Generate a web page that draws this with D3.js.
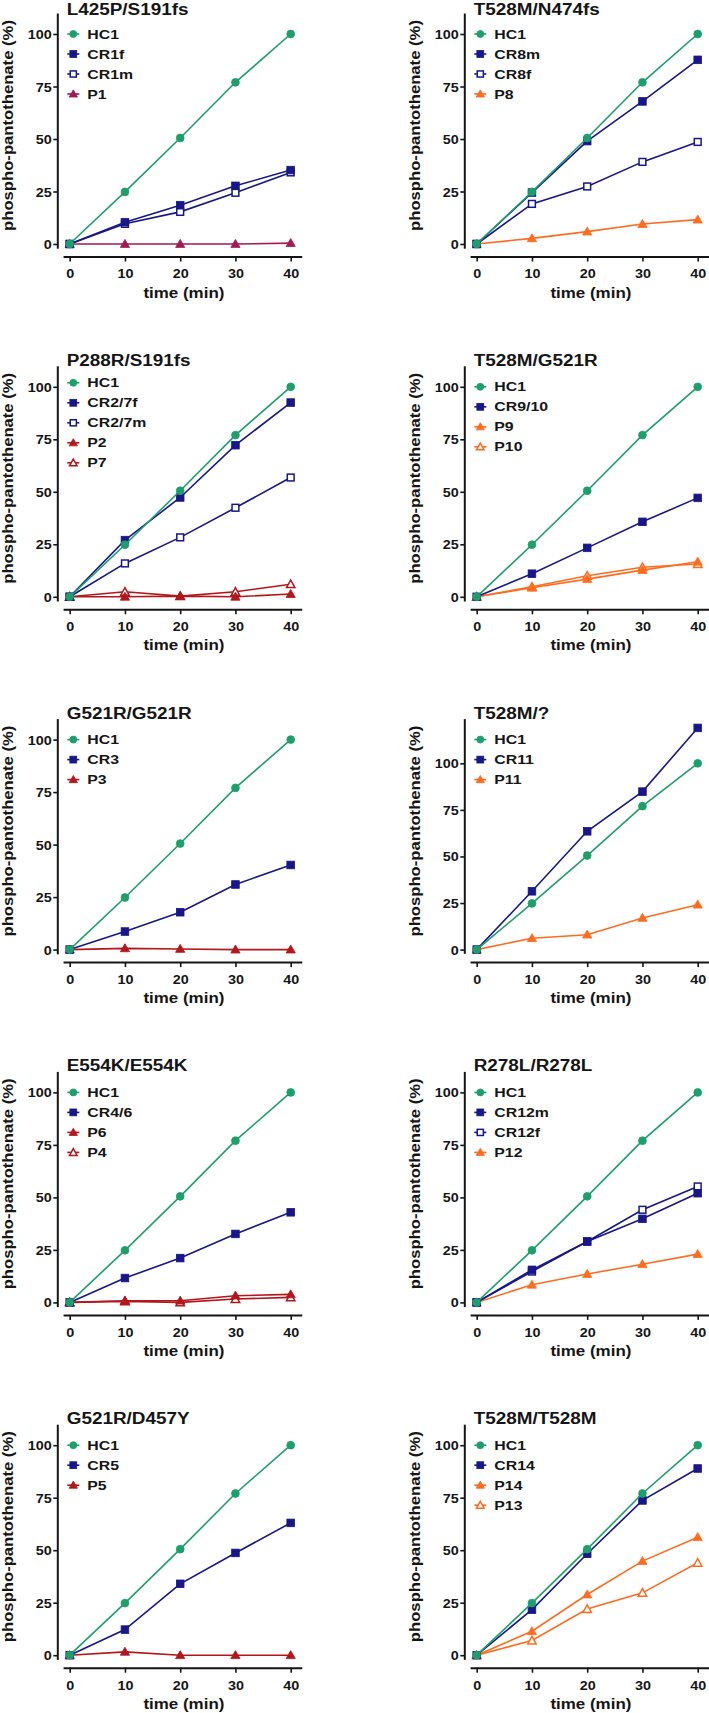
<!DOCTYPE html>
<html>
<head>
<meta charset="utf-8">
<script src="https://cdn.jsdelivr.net/npm/d3@7"></script>
<style>
body{margin:0;background:#fff;}
svg text{font-family:"Liberation Sans",Arial,sans-serif;font-weight:bold;fill:#151515;}
</style>
</head>
<body>
<svg id="fig" width="709" height="1713"></svg>
<script>
// values (% of HC1 at 40 min)
var times = [0, 10, 20, 30, 40];
var xTicks = [0, 10, 20, 30, 40];
var yTicks = [0, 25, 50, 75, 100];
var titles = ["L425P/S191fs", "T528M/N474fs", "P288R/S191fs", "T528M/G521R", "G521R/G521R",
              "T528M/?", "E554K/E554K", "R278L/R278L", "G521R/D457Y", "T528M/T528M"];
var yMax = [110, 110, 110, 110, 110, 124, 110, 110, 110, 110];

var hc1 = [0, 24.8, 50.5, 77, 100];
var cr1f = [0, 10.4, 18.5, 27.7, 35.2];
var cr1m = [0, 9.6, 15.3, 24.4, 34.1];
var p1 = [0, 0, 0, 0, 0.4];
var cr8m = [0, 24.5, 49, 67.9, 87.7];
var cr8f = [0, 19.1, 27.4, 39.1, 48.6];
var p8 = [0, 2.7, 5.9, 9.5, 11.6];
var cr27f = [0, 27, 47.3, 72.2, 92.5];
var cr27m = [0, 15.9, 28.3, 42.4, 56.8];
var p2 = [0, 0, 0.3, 0, 1.3];
var p7 = [0, 2.4, 0.3, 2.4, 6];
var cr910 = [0, 11, 23.3, 35.7, 47.1];
var p9 = [0, 4.3, 8.4, 12.7, 16.7];
var p10 = [0, 4.8, 10, 14.1, 15.6];
var cr3 = [0, 8.6, 17.8, 31, 40.3];
var p3 = [0, 0.6, 0.3, 0, 0];
var cr11 = [0, 31.3, 63.5, 84.8, 119];
var p11 = [0, 6.1, 8, 17, 24.1];
var cr46 = [0, 11.6, 21.1, 32.6, 42.9];
var p6 = [0, 0.8, 0.8, 3.2, 3.8];
var p4 = [0, 0.5, 0, 1.6, 2.4];
var cr12m = [0, 15.5, 29, 39.8, 52];
var cr12f = [0, 14.7, 29, 44.1, 55.2];
var p12 = [0, 8.4, 13.5, 18.2, 23];
var cr5 = [0, 12.2, 34, 48.7, 63];
var p5 = [0, 1.6, 0, 0, 0];
var cr14 = [0, 21.7, 48.3, 73.7, 88.9];
var p14 = [0, 11.4, 28.9, 44.8, 56.2];
var p13 = [0, 7, 22, 29.7, 44];

// [label, values, kind]
var panels = [
  [["HC1", hc1, "hc"], ["CR1f", cr1f, "cr"], ["CR1m", cr1m, "crOpen"], ["P1", p1, "p"]],
  [["HC1", hc1, "hc"], ["CR8m", cr8m, "cr"], ["CR8f", cr8f, "crOpen"], ["P8", p8, "p"]],
  [["HC1", hc1, "hc"], ["CR2/7f", cr27f, "cr"], ["CR2/7m", cr27m, "crOpen"], ["P2", p2, "p"], ["P7", p7, "pOpen"]],
  [["HC1", hc1, "hc"], ["CR9/10", cr910, "cr"], ["P9", p9, "p"], ["P10", p10, "pOpen"]],
  [["HC1", hc1, "hc"], ["CR3", cr3, "cr"], ["P3", p3, "p"]],
  [["HC1", hc1, "hc"], ["CR11", cr11, "cr"], ["P11", p11, "p"]],
  [["HC1", hc1, "hc"], ["CR4/6", cr46, "cr"], ["P6", p6, "p"], ["P4", p4, "pOpen"]],
  [["HC1", hc1, "hc"], ["CR12m", cr12m, "cr"], ["CR12f", cr12f, "crOpen"], ["P12", p12, "p"]],
  [["HC1", hc1, "hc"], ["CR5", cr5, "cr"], ["P5", p5, "p"]],
  [["HC1", hc1, "hc"], ["CR14", cr14, "cr"], ["P14", p14, "p"], ["P13", p13, "pOpen"]]
];

var green = "#1d9f6c", navy = "#17178a";
var pColor = ["#a21a55", "#ff6c1f", "#b3161b", "#ff6c1f", "#b3161b",
              "#ff6c1f", "#b3161b", "#ff6c1f", "#b3161b", "#ff6c1f"];

var svg = d3.select('#fig');

// the lettering in the figure is wide: measure a sample and stretch to the width seen
function stretch(sample, size, width){
	var t = svg.append('text').style('font-size', size + 'px').text(sample);
	var w = t.node().getComputedTextLength();
	t.remove();
	return w > 0 ? width / w : 1.2;
}
var sTitle = stretch("P288R/S191fs", 16, 124);
var sTick = stretch("100", 12.5, 24);
var sLeg = stretch("HC1", 13, 31.7);
var sXt = stretch("time (min)", 14, 81);
var sYt = stretch("phospho-pantothenate (%)", 14.5, 211);

function kindColor(kind, i){
	if(kind == "hc") return green;
	if(kind == "cr" || kind == "crOpen") return navy;
	return pColor[i];
}

function drawMarker(g, kind, color, cx, cy, s){
	var open = kind == "crOpen" || kind == "pOpen";
	var m;
	if(kind == "hc"){
		m = g.append('circle').attr('cx', cx).attr('cy', cy).attr('r', 3.9 * s);
	} else if(kind == "cr" || kind == "crOpen"){
		var h = (open ? 3.4 : 3.8) * s;
		m = g.append('rect').attr('x', cx - h).attr('y', cy - h).attr('width', 2 * h).attr('height', 2 * h);
	} else {
		var w = (open ? 4.2 : 4.6) * s, t = (open ? 4.2 : 4.6) * s, b = 3.4 * s;
		m = g.append('path').attr('d', 'M' + cx + ',' + (cy - t) + 'L' + (cx + w) + ',' + (cy + b) + 'L' + (cx - w) + ',' + (cy + b) + 'Z');
	}
	m.attr('fill', open ? '#fff' : color)
	 .attr('stroke', color)
	 .attr('stroke-width', open ? 1.5 : 0.8);
}

panels.forEach(function(series, i){
	var col = i % 2, row = Math.floor(i / 2);
	var x0 = col == 0 ? 69.7 : 476.7;
	var axX = x0 - 12.4;
	var top = 13 + 352.8 * row;
	var zero = top + 231;

	var x = d3.scaleLinear().domain([0, 40]).range([x0, x0 + 221]);
	var y = d3.scaleLinear().domain([0, yMax[i]]).range([zero, top]);
	var xa = d3.scaleLinear().domain([-1.2, 42]).range([x(-1.2), x(42)]);
	var ya = d3.scaleLinear().domain([-2, yMax[i]]).range([y(-2), y(yMax[i])]);
	var axY = zero + 12.5;

	var g = svg.append('g').attr('class', 'panel');

	var gx = g.append('g').attr('transform', 'translate(0,' + axY + ')')
		.call(d3.axisBottom(xa).tickValues(xTicks).tickSize(5).tickSizeOuter(0));
	var gy = g.append('g').attr('transform', 'translate(' + axX + ',0)')
		.call(d3.axisLeft(ya).tickValues(yTicks).tickSize(4).tickSizeOuter(0));
	[gx, gy].forEach(function(a){
		a.attr('font-family', null).attr('font-size', null);
		a.select('.domain').attr('stroke', '#151515').attr('stroke-width', 2);
		a.selectAll('.tick line').attr('stroke', '#151515').attr('stroke-width', 1.6);
	});
	gx.selectAll('.tick text')
		.attr('y', 22).attr('dy', 0)
		.attr('transform', 'scale(' + sTick + ',1)')
		.style('font-size', '12.5px');
	gy.selectAll('.tick text')
		.attr('x', -5.6 / sTick).attr('dy', '0.36em')
		.attr('transform', 'scale(' + sTick + ',1)')
		.style('font-size', '12.5px');

	// axis titles
	var xc = (x(-1.2) + x(42)) / 2 + 1.5;
	g.append('text')
		.attr('transform', 'translate(' + xc + ',' + (axY + 41) + ') scale(' + sXt + ',1)')
		.attr('text-anchor', 'middle')
		.style('font-size', '14px')
		.text('time (min)');
	g.append('text')
		.attr('transform', 'translate(' + (axX - 44) + ',' + ((top + zero) / 2 - 3) + ') rotate(-90) scale(' + sYt + ',1)')
		.attr('text-anchor', 'middle')
		.style('font-size', '14.5px')
		.text('phospho-pantothenate (%)');

	// panel title
	g.append('text')
		.attr('transform', 'translate(' + (axX + 9.4) + ',' + Math.max(top, 15) + ') scale(' + sTitle + ',1)')
		.style('font-size', '16px')
		.text(titles[i]);

	// lines and markers, last legend entry first so HC1 sits on top
	var line = d3.line()
		.x(function(d, k){ return x(times[k]); })
		.y(function(d){ return y(d); });
	series.slice().reverse().forEach(function(s){
		var c = kindColor(s[2], i);
		g.append('path')
			.attr('d', line(s[1]))
			.attr('fill', 'none')
			.attr('stroke', c)
			.attr('stroke-width', 1.6);
		var mg = g.append('g');
		s[1].forEach(function(v, k){
			drawMarker(mg, s[2], c, x(times[k]), y(v), 1);
		});
	});

	// legend
	var lx = axX + 16;
	var ly = top + (series.length >= 5 ? 17 : 21);
	series.forEach(function(s, k){
		var c = kindColor(s[2], i);
		var yy = ly + k * 20;
		g.append('line')
			.attr('x1', lx - 6).attr('x2', lx + 6)
			.attr('y1', yy).attr('y2', yy)
			.attr('stroke', c).attr('stroke-width', 1.6);
		drawMarker(g, s[2], c, lx, yy, 0.9);
		g.append('text')
			.attr('transform', 'translate(' + (lx + 14) + ',' + yy + ') scale(' + sLeg + ',1)')
			.attr('dy', '0.36em')
			.style('font-size', '13px')
			.text(s[0]);
	});
});
</script>
</body>
</html>
